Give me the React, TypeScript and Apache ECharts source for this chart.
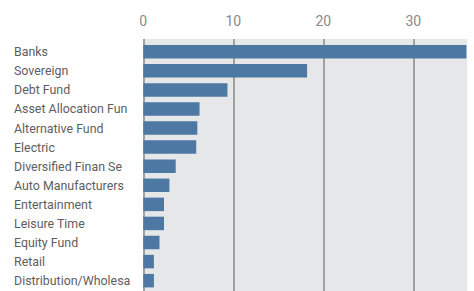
import React, { useEffect, useRef } from "react";
import * as echarts from "echarts";

const categories = [
  "Banks",
  "Sovereign",
  "Debt Fund",
  "Asset Allocation Fun",
  "Alternative Fund",
  "Electric",
  "Diversified Finan Se",
  "Auto Manufacturers",
  "Entertainment",
  "Leisure Time",
  "Equity Fund",
  "Retail",
  "Distribution/Wholesa",
];
const values = [35.9, 18.2, 9.35, 6.25, 6.0, 5.88, 3.6, 2.9, 2.3, 2.3, 1.8, 1.18, 1.18];
const axisMin = 0;
const axisMax = 36;
const axisInterval = 10;

const FONT = "Roboto, 'Liberation Sans Narrow', sans-serif";

export default function App() {
  const ref = useRef<HTMLDivElement>(null);
  useEffect(() => {
    if (!ref.current) return;
    const chart = echarts.init(ref.current, undefined, { renderer: "svg" });
    chart.setOption({
      animation: false,
      backgroundColor: "#ffffff",
      grid: [
        { left: 143.3, top: 39, width: 324, height: 254, backgroundColor: "#e6e7e9", show: true, borderWidth: 0 },
        { left: 143.3, top: 42.2, width: 324, height: 248 },
      ],
      xAxis: [
        {
          gridIndex: 0,
          type: "value",
          position: "top",
          min: axisMin,
          max: axisMax,
          interval: axisInterval,
          axisLine: { show: false },
          axisTick: { show: false },
          axisLabel: {
            show: true,
            showMaxLabel: false,
            margin: 11,
            color: "#8a8a8a",
            fontFamily: FONT,
            fontSize: 14,
            formatter: (v: number) => (v % axisInterval === 0 ? String(v) : ""),
          },
          splitLine: {
            show: true,
            lineStyle: { color: ["#8a8a8a", "#8a8a8a", "#8a8a8a", "#8a8a8a", "rgba(0,0,0,0)"], width: 1.5 },
          },
        },
        {
          gridIndex: 1,
          type: "value",
          min: axisMin,
          max: axisMax,
          show: false,
          splitLine: { show: false },
        },
      ],
      yAxis: [
        {
          gridIndex: 0,
          type: "value",
          show: false,
          splitLine: { show: false },
        },
        {
          gridIndex: 1,
          type: "category",
          inverse: true,
          data: categories,
          axisLine: { show: false },
          axisTick: { show: false },
          splitLine: { show: false },
          axisLabel: {
            interval: 0,
            align: "left",
            margin: 129.3,
            color: "#5e5e5e",
            fontFamily: FONT,
            fontSize: 12.4,
          },
        },
      ],
      series: [
        {
          type: "bar",
          xAxisIndex: 1,
          yAxisIndex: 1,
          data: values,
          barWidth: 13.5,
          itemStyle: { color: "#4e78a4" },
        },
      ],
    });
    return () => chart.dispose();
  }, []);
  return (
    <div
      ref={ref}
      style={{ position: "fixed", left: 0, top: 0, width: 474, height: 291 }}
    />
  );
}
